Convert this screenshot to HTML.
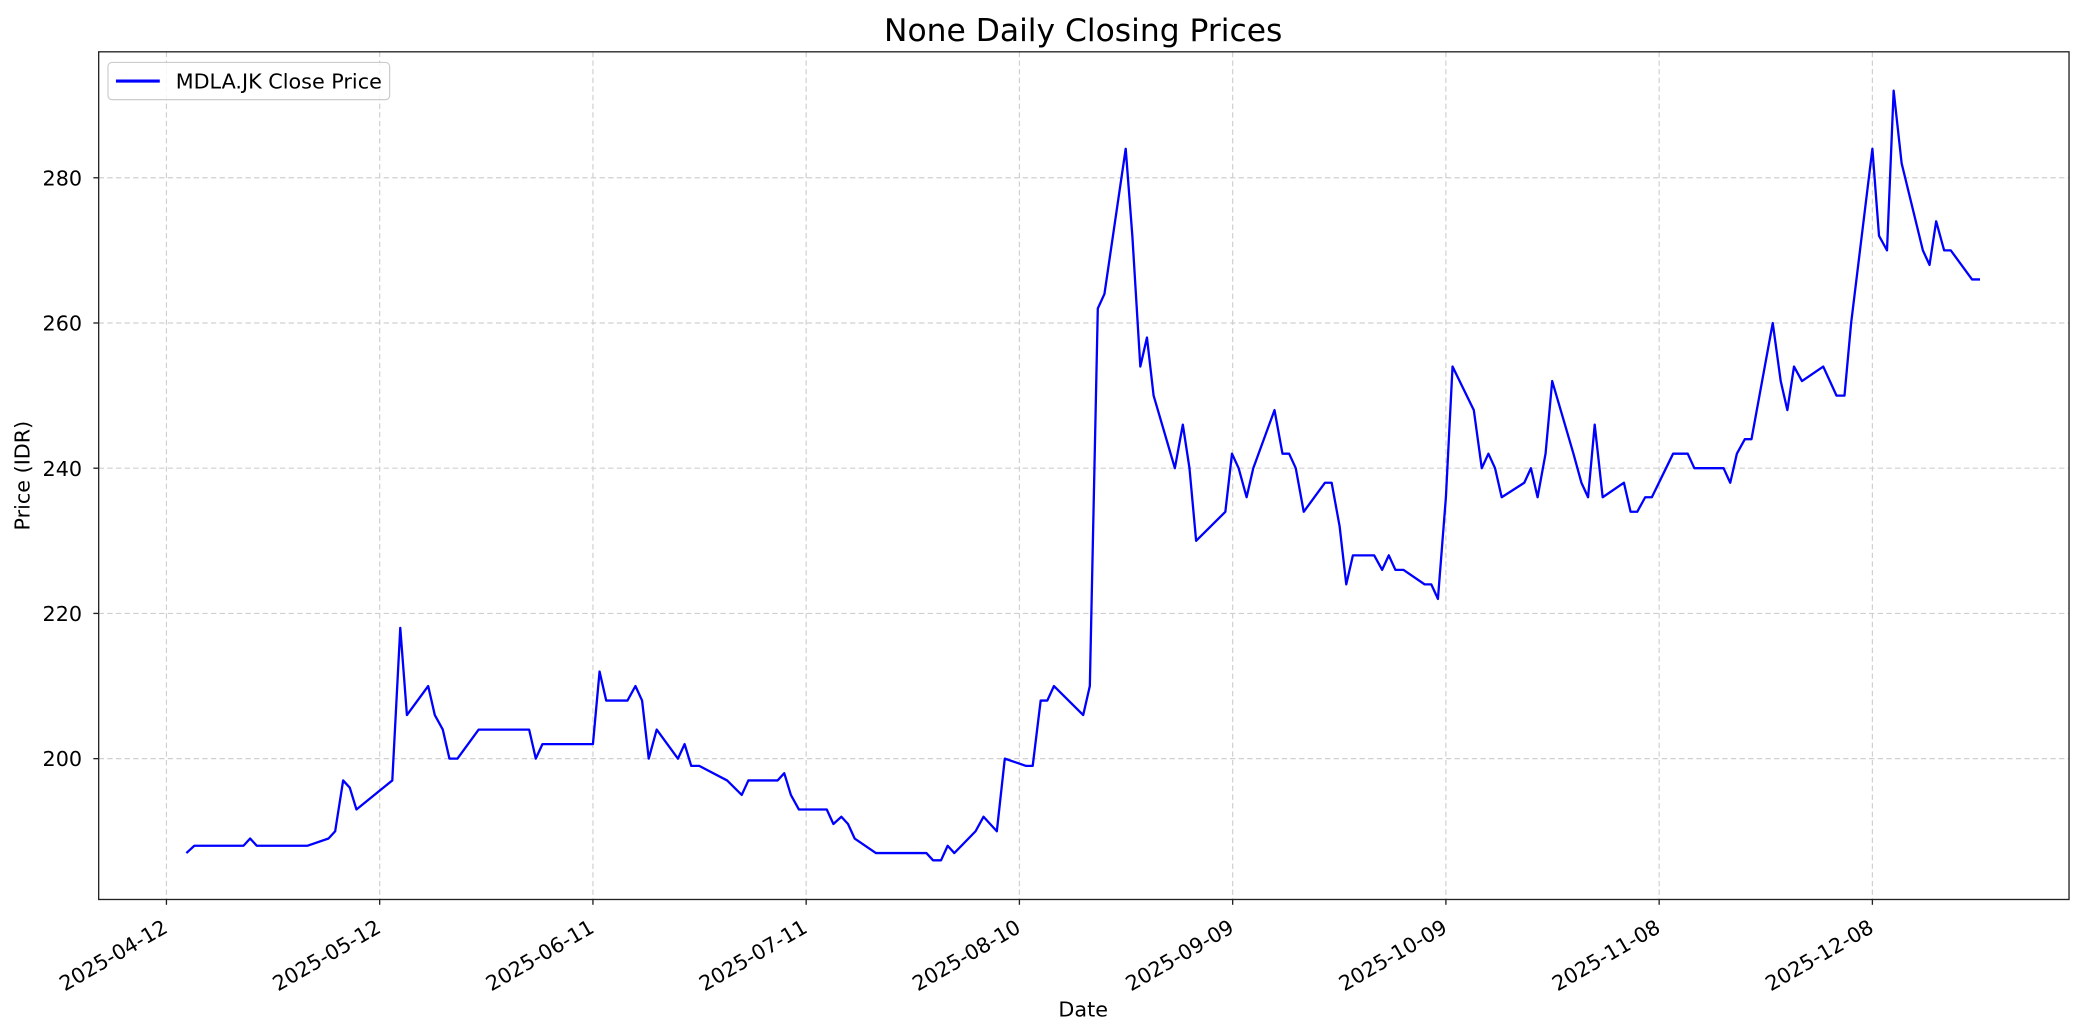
<!DOCTYPE html>
<html><head><meta charset="utf-8"><style>body{margin:0;background:#fff}svg{display:block}text{font-family:"DejaVu Sans","Liberation Sans",sans-serif;fill:#000}</style></head>
<body>
<svg width="2084" height="1035" viewBox="0 0 1568 779" xmlns="http://www.w3.org/2000/svg">
<rect width="1568" height="779" fill="#fff"/>
<text x="815" y="31" font-size="23.6" text-anchor="middle">None Daily Closing Prices</text>
<g stroke="#d0d0d0" stroke-width="0.9" stroke-dasharray="4,2.5">
<line x1="125" y1="39" x2="125" y2="677"/><line x1="285.5" y1="39" x2="285.5" y2="677"/><line x1="446" y1="39" x2="446" y2="677"/><line x1="606.5" y1="39" x2="606.5" y2="677"/><line x1="767" y1="39" x2="767" y2="677"/><line x1="927.5" y1="39" x2="927.5" y2="677"/><line x1="1088" y1="39" x2="1088" y2="677"/><line x1="1248.5" y1="39" x2="1248.5" y2="677"/><line x1="1409" y1="39" x2="1409" y2="677"/>
<line x1="74" y1="133.8" x2="1557" y2="133.8"/><line x1="74" y1="243.1" x2="1557" y2="243.1"/><line x1="74" y1="352.4" x2="1557" y2="352.4"/><line x1="74" y1="461.7" x2="1557" y2="461.7"/><line x1="74" y1="571" x2="1557" y2="571"/>
</g>
<g transform="matrix(1 0 0 -5.465 0 1664)">
<polyline fill="none" stroke="#0000ff" stroke-width="2.3" vector-effect="non-scaling-stroke" stroke-linejoin="round" points="140,187 146,188 183,188 188,189 193,188 231,188 247,189 252,190 258,197 263,196 268,193 295,197 301,218 306,206 322,210 327,206 333,204 338,200 344,200 360,204 398,204 403,200 408,202 446,202 451,212 456,208 472,208 478,210 483,208 488,200 494,204 510,200 515,202 520,199 526,199 547,197 558,195 563,197 585,197 590,198 595,195 601,193 622,193 627,191 633,192 638,191 643,189 659,187 697,187 702,186 708,186 713,188 718,187 734,190 740,192 750,190 756,200 772,199 777,199 783,208 788,208 793,210 815,206 820,210 826,262 831,264 847,284 852,272 858,254 863,258 868,250 884,240 890,246 895,240 900,230 922,234 927,242 932,240 938,236 943,240 959,248 965,242 970,242 975,240 981,234 997,238 1002,238 1008,232 1013,224 1018,228 1034,228 1040,226 1045,228 1050,226 1056,226 1072,224 1077,224 1082,222 1088,236 1093,254 1109,248 1115,240 1120,242 1125,240 1130,236 1147,238 1152,240 1157,236 1163,242 1168,252 1184,242 1190,238 1195,236 1200,246 1206,236 1222,238 1227,234 1232,234 1238,236 1243,236 1259,242 1270,242 1275,240 1297,240 1302,238 1307,242 1313,244 1318,244 1334,260 1340,252 1345,248 1350,254 1356,252 1372,254 1382,250 1388,250 1393,260 1409,284 1414,272 1420,270 1425,292 1431,282 1447,270 1452,268 1457,274 1463,270 1468,270 1484,266 1490,266"/>
</g>
<rect x="74" y="39" width="1483" height="638" fill="none" stroke="#222" stroke-width="1"/>
<g stroke="#222" stroke-width="1">
<line x1="70" y1="133.8" x2="74" y2="133.8"/><line x1="70" y1="243.1" x2="74" y2="243.1"/><line x1="70" y1="352.4" x2="74" y2="352.4"/><line x1="70" y1="461.7" x2="74" y2="461.7"/><line x1="70" y1="571" x2="74" y2="571"/>
<line x1="125" y1="677" x2="125" y2="681"/><line x1="285.5" y1="677" x2="285.5" y2="681"/><line x1="446" y1="677" x2="446" y2="681"/><line x1="606.5" y1="677" x2="606.5" y2="681"/><line x1="767" y1="677" x2="767" y2="681"/><line x1="927.5" y1="677" x2="927.5" y2="681"/><line x1="1088" y1="677" x2="1088" y2="681"/><line x1="1248.5" y1="677" x2="1248.5" y2="681"/><line x1="1409" y1="677" x2="1409" y2="681"/>
</g>
<g font-size="15.6" text-anchor="end">
<text x="61.5" y="139.5">280</text><text x="61.5" y="248.8">260</text><text x="61.5" y="358.1">240</text><text x="61.5" y="467.4">220</text><text x="61.5" y="576.7">200</text>
</g>
<g font-size="15.6" text-anchor="end">
<text transform="translate(127,701) rotate(-30)">2025-04-12</text>
<text transform="translate(287.5,701) rotate(-30)">2025-05-12</text>
<text transform="translate(448,701) rotate(-30)">2025-06-11</text>
<text transform="translate(608.5,701) rotate(-30)">2025-07-11</text>
<text transform="translate(769,701) rotate(-30)">2025-08-10</text>
<text transform="translate(929.5,701) rotate(-30)">2025-09-09</text>
<text transform="translate(1090,701) rotate(-30)">2025-10-09</text>
<text transform="translate(1250.5,701) rotate(-30)">2025-11-08</text>
<text transform="translate(1411,701) rotate(-30)">2025-12-08</text>
</g>
<text x="815" y="765" font-size="15.6" text-anchor="middle">Date</text>
<text transform="translate(22,358) rotate(-90)" font-size="15.6" text-anchor="middle">Price (IDR)</text>
<rect x="81" y="47" width="212" height="28" rx="3" fill="#fff" fill-opacity="0.8" stroke="#ccc" stroke-width="0.9"/>
<line x1="87" y1="61" x2="120" y2="61" stroke="#0000ff" stroke-width="2.3"/>
<text x="132" y="66.5" font-size="15.6">MDLA.JK Close Price</text>
</svg>
</body></html>
